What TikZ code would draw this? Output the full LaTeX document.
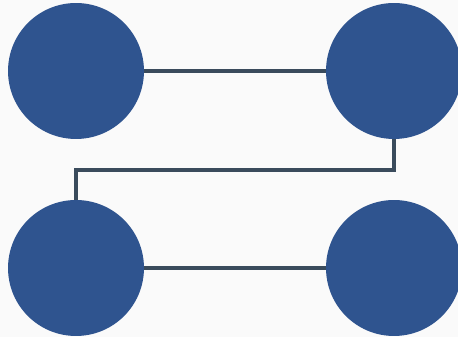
\documentclass[tikz,border=0pt]{standalone}
\usepackage{tikz}
\usetikzlibrary{positioning}

\definecolor{bgcol}{HTML}{FAFAFA}
\definecolor{dotcol}{HTML}{2F548F}
\definecolor{wirecol}{HTML}{3A4B5C}

\tikzset{
  dot/.style={circle, fill=dotcol, inner sep=0pt, minimum size=2.72cm},
  wire/.style={draw=wirecol, line width=0.075cm, line join=miter}
}

\begin{document}
\begin{tikzpicture}[x=0.02cm, y=-0.02cm]
\fill[bgcol] (0,0) rectangle (458,337) ;
\useasboundingbox (0,0) rectangle (458,337) ;

\node[dot] at (76,71) (dot1) {} ;
\node[dot] at (394,71) (dot2) {} ;
\node[dot] at (76,268) (dot3) {} ;
\node[dot] at (394,268) (dot4) {} ;

\draw[wire] (dot1) -- (dot2) ;
\draw[wire] (dot2.south) -- ++(0,31) -| (dot3.north) ;
\draw[wire] (dot3) -- (dot4) ;
\end{tikzpicture}
\end{document}
